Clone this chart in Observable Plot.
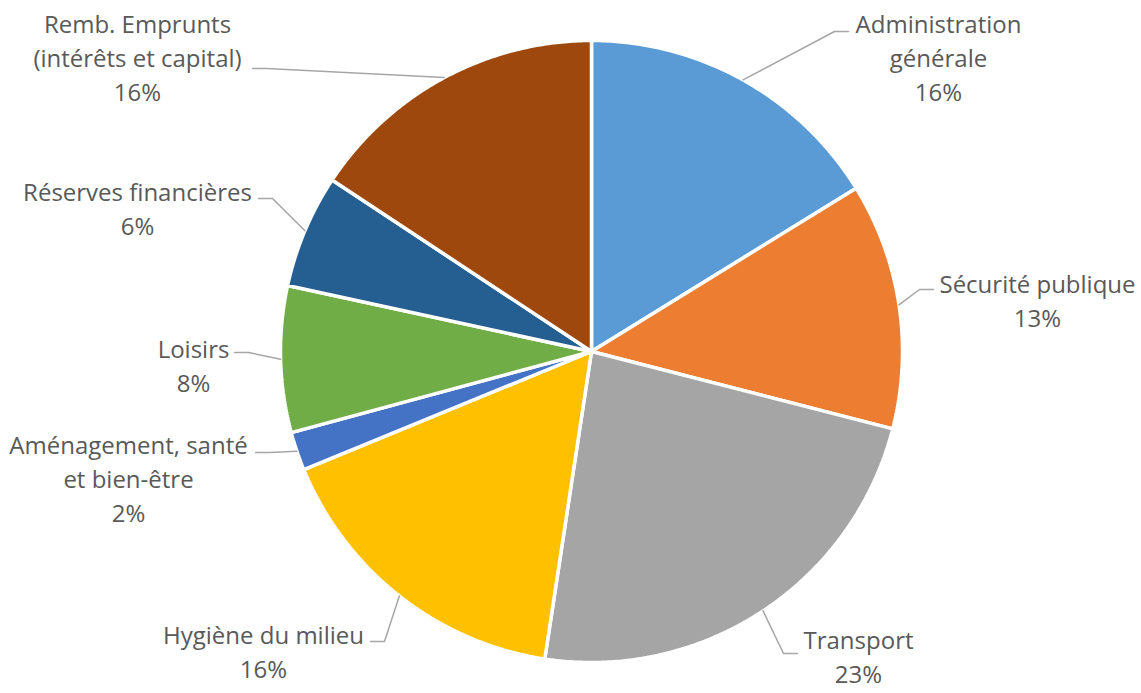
<!DOCTYPE html>
<html><head><meta charset="utf-8">
<script src="https://cdn.jsdelivr.net/npm/d3@7"></script>
<script src="https://cdn.jsdelivr.net/npm/@observablehq/plot@0.6"></script>
<style>body{margin:0;background:#fff}</style>
</head><body><div id="chart"></div>
<script>
// ---- data ----
const categories = ["Administration générale", "Sécurité publique", "Transport", "Hygiène du milieu",
  "Aménagement, santé et bien-être", "Loisirs", "Réserves financières", "Remb. Emprunts (intérêts et capital)"];
const values = [16.2, 12.8, 23.4, 16.4, 2.0, 7.6, 5.9, 15.7];
const colors = ["#5b9bd5", "#ed7d31", "#a5a5a5", "#ffc000", "#4472c4", "#70ad47", "#255e91", "#9e480e"];
const labelNames = ["Administration\ngénérale", "Sécurité publique", "Transport", "Hygiène du milieu",
  "Aménagement, santé\net bien-être", "Loisirs", "Réserves financières", "Remb. Emprunts\n(intérêts et capital)"];

// ---- layout (offsets from pie centre, px) ----
const W = 1141, H = 693, CX = 591, CY = 351, R = 311;
const labelCenter = [[347,-295],[446,-52],[267,304],[-328,299],[-463,126],[-398,13],[-454,-144],[-454,-295]];
const leaderEnd = [[257,-320],[342,-62],[206,302],[-221,290],[-336,101],[-357,1],[-333,-153],[-339,-283]];

const arcs = d3.pie().sort(null).value(d => d)(values);
const slicePts = [];
const leaderPts = [];
arcs.forEach((a, i) => {
  const cat = categories[i];
  slicePts.push({cat, x: 0, y: 0});
  const n = Math.max(2, Math.ceil((a.endAngle - a.startAngle) / (Math.PI / 360)));
  for (let k = 0; k <= n; k++) {
    const t = a.startAngle + (a.endAngle - a.startAngle) * k / n;
    slicePts.push({cat, x: R * Math.sin(t), y: -R * Math.cos(t)});
  }
  const mid = (a.startAngle + a.endAngle) / 2;
  const [ex, ey] = leaderEnd[i];
  leaderPts.push({cat, x: R * Math.sin(mid), y: -R * Math.cos(mid)});
  leaderPts.push({cat, x: ex + (ex > 0 ? -14 : 14), y: ey});
  leaderPts.push({cat, x: ex, y: ey});
});
const labels = categories.map((c, i) => ({
  cat: c, x: labelCenter[i][0], y: labelCenter[i][1],
  text: labelNames[i] + "\n" + Math.round(values[i]) + "%"
}));

const chart = Plot.plot({
  width: W, height: H, margin: 0,
  style: {background: "#fff", overflow: "visible"},
  x: {domain: [-CX, W - CX], range: [0, W], axis: null},
  y: {domain: [-CY, H - CY], range: [0, H], axis: null},
  color: {domain: categories, range: colors},
  marks: [
    Plot.line(slicePts, {x: "x", y: "y", z: "cat", fill: "cat", stroke: "#fff", strokeWidth: 3.5, curve: "linear-closed", strokeLinejoin: "miter"}),
    Plot.line(leaderPts, {x: "x", y: "y", z: "cat", stroke: "#a6a6a6", strokeWidth: 1.5}),
    Plot.text(labels, {x: "x", y: "y", text: "text", textAnchor: "middle", lineAnchor: "middle",
      fontSize: 24, fontFamily: "Open Sans", fill: "#595959", lineHeight: 1.42})
  ]
});
document.getElementById("chart").appendChild(chart);
</script>
</body></html>
